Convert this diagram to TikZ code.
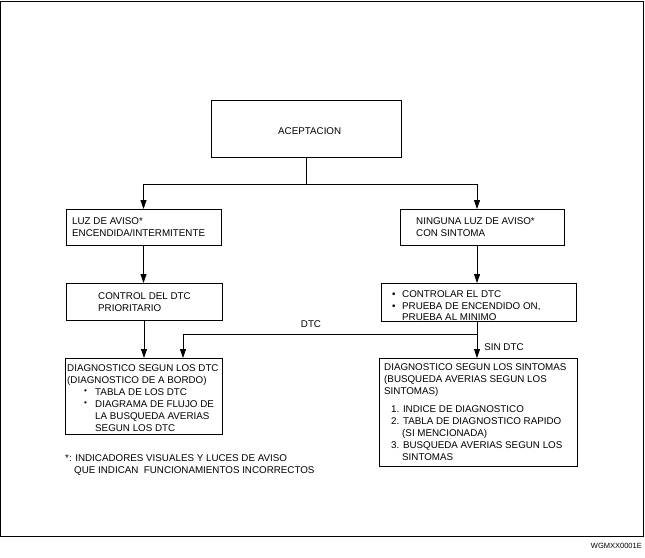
\documentclass[tikz,border=0pt]{standalone}
\usepackage{fontspec}
\setmainfont{Liberation Sans}
\usetikzlibrary{arrows.meta}
\begin{document}
\begin{tikzpicture}[x=1pt,y=-1pt,
  box/.style={draw=black, line width=0.8pt, inner sep=0pt, outer sep=0pt},
  txt/.style={anchor=base west, inner sep=0pt, font=\fontsize{9.8}{12}\selectfont},
  lbl/.style={inner sep=0pt, font=\fontsize{9.8}{12}\selectfont},
  conn/.style={line width=0.8pt},
  arr/.style={line width=0.8pt, -{Triangle[width=6pt,length=9pt]}}]
\useasboundingbox (0,0) rectangle (645,557);
\draw[line width=1pt] (0.5,1) rectangle (643.5,536.5);
% boxes
\node[box, minimum width=190pt, minimum height=57pt] (acep) at (306.5,128.5) {};
\node[box, minimum width=155pt, minimum height=36pt] (luz) at (143.5,227) {};
\node[box, minimum width=164pt, minimum height=36pt] (ning) at (482,227) {};
\node[box, minimum width=156pt, minimum height=37pt] (ctrl) at (144,301.5) {};
\node[box, minimum width=195pt, minimum height=38.5pt] (ctrlr) at (478.5,302.25) {};
\node[box, minimum width=157pt, minimum height=76pt] (diagl) at (143.5,396) {};
\node[box, minimum width=198pt, minimum height=108pt] (diagr) at (478,412) {};
% texts
\node[txt] (t1) at (278,134.6) {ACEPTACION};
\node[txt] (t2) at (72,224.6) {LUZ DE AVISO*};
\node[txt] (t3) at (72,236.6) {ENCENDIDA/INTERMITENTE};
\node[txt] (t4) at (416,224.6) {NINGUNA LUZ DE AVISO*};
\node[txt] (t5) at (416,236.6) {CON SINTOMA};
\node[txt] (t6) at (98,299) {CONTROL DEL DTC};
\node[txt] (t7) at (98,311) {PRIORITARIO};
\node[txt] (b1) at (392,297.4) {•};
\node[txt] (t8) at (402,297.4) {CONTROLAR EL DTC};
\node[txt] (b2) at (392,309) {•};
\node[txt] (t9) at (402,309) {PRUEBA DE ENCENDIDO ON,};
\node[txt] (t10) at (402,320.3) {PRUEBA AL MINIMO};
\node[txt] (t11) at (67,371.6) {DIAGNOSTICO SEGUN LOS DTC};
\node[txt] (t12) at (67,383.6) {(DIAGNOSTICO DE A BORDO)};
\node[txt] (b3) at (84,393.6) {\fontsize{8}{8}\selectfont •};
\node[txt] (t13) at (95,395.6) {TABLA DE LOS DTC};
\node[txt] (b4) at (84,405.6) {\fontsize{8}{8}\selectfont •};
\node[txt] (t14) at (95,407.6) {DIAGRAMA DE FLUJO DE};
\node[txt] (t15) at (95,419.6) {LA BUSQUEDA AVERIAS};
\node[txt] (t16) at (95,431.6) {SEGUN LOS DTC};
\node[txt] (t17) at (384,370.6) {DIAGNOSTICO SEGUN LOS SINTOMAS};
\node[txt] (t18) at (384,382.6) {(BUSQUEDA AVERIAS SEGUN LOS};
\node[txt] (t19) at (384,394.6) {SINTOMAS)};
\node[txt] (t20) at (391,412.6) {1. INDICE DE DIAGNOSTICO};
\node[txt] (t21) at (391,424.6) {2. TABLA DE DIAGNOSTICO RAPIDO};
\node[txt] (t22) at (402,436.6) {(SI MENCIONADA)};
\node[txt] (t23) at (391,448.6) {3. BUSQUEDA AVERIAS SEGUN LOS};
\node[txt] (t24) at (402,460.6) {SINTOMAS};
\node[txt] (f1) at (65,461.6) {*: INDICADORES VISUALES Y LUCES DE AVISO};
\node[txt] (f2) at (74,473.6) {QUE INDICAN\ \ FUNCIONAMIENTOS INCORRECTOS};
\node[anchor=base east, inner sep=0pt, font=\fontsize{7.5}{9}\selectfont] (code) at (642,548) {WGMXX0001E};
% connector labels
\node[lbl] (ldtc) at (311,324) {DTC};
\node[lbl] (lsin) at (504,347) {SIN DTC};
% connectors
\coordinate (j) at (306.5,184);
\coordinate (rx) at (477,184);
\coordinate (lx) at (183,334);
\coordinate (b) at (477,334);
\draw[conn] (acep.south) -- (j);
\draw[arr] (j) -| (luz.north);
\draw[arr] (j) -| (rx |- ning.north);
\draw[arr] (luz.south) -- (luz.south |- ctrl.north);
\draw[arr] (rx |- ning.south) -- (rx |- ctrlr.north);
\draw[arr] (ctrl.south) -- (ctrl.south |- diagl.north);
\draw[arr] (rx |- ctrlr.south) -- (rx |- diagr.north);
\draw[arr] (b) -| (lx |- diagl.north);
\end{tikzpicture}
\end{document}
